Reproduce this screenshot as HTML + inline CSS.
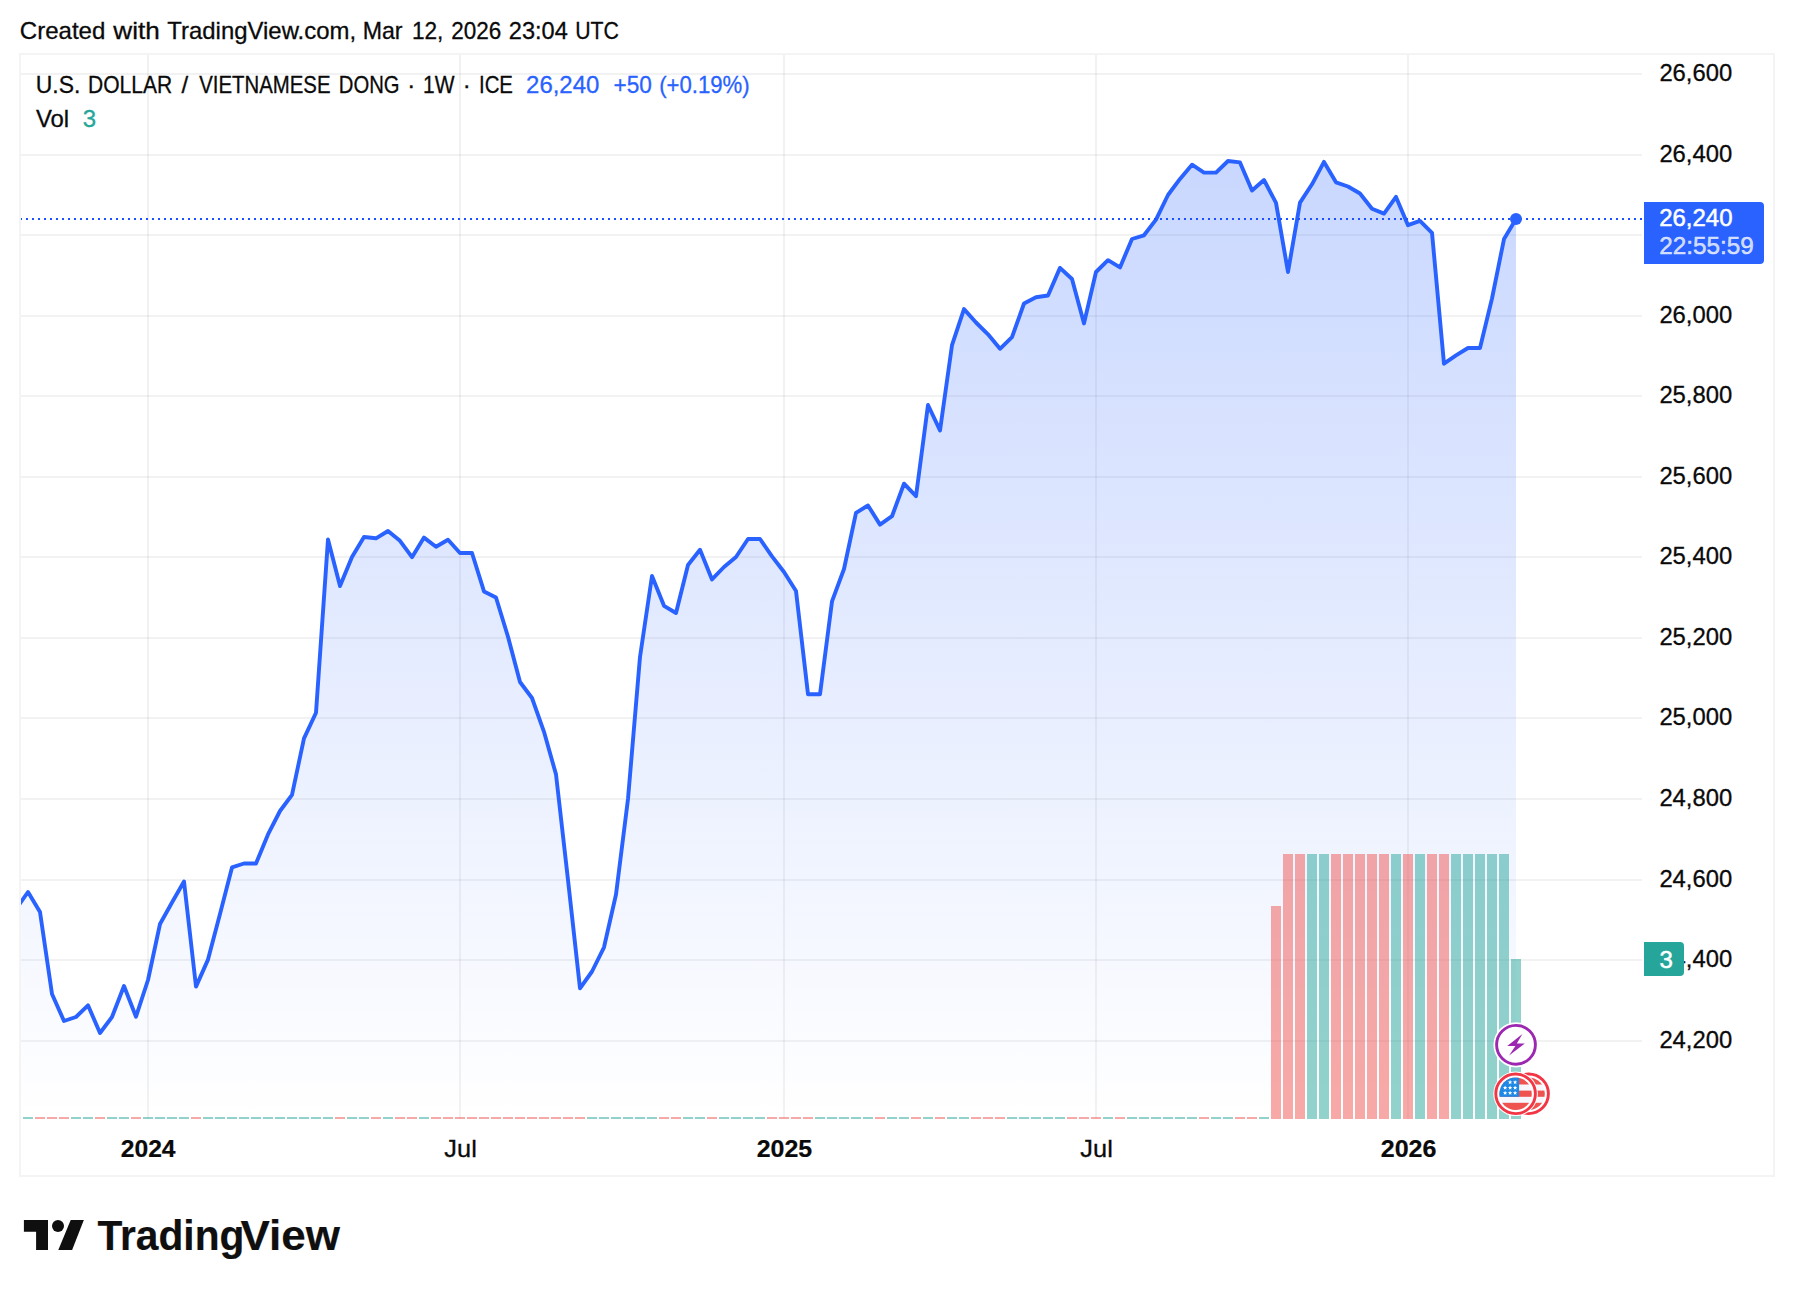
<!DOCTYPE html>
<html lang="en"><head><meta charset="utf-8"><title>USDVND chart</title>
<style>html,body{margin:0;padding:0;background:#fff;}body{width:1794px;height:1296px;overflow:hidden;}svg{display:block;}text{font-family:"Liberation Sans",sans-serif;}</style>
</head><body>
<svg width="1794" height="1296" viewBox="0 0 1794 1296">
<defs>
<linearGradient id="ag" gradientUnits="userSpaceOnUse" x1="0" y1="54" x2="0" y2="1118"><stop offset="0" stop-color="#2962ff" stop-opacity="0.28"/><stop offset="1" stop-color="#2962ff" stop-opacity="0"/></linearGradient>
<clipPath id="pane"><rect x="20" y="55" width="1622" height="1064"/></clipPath>
<clipPath id="flagc"><circle cx="0" cy="0" r="16.2"/></clipPath>
</defs>
<rect width="1794" height="1296" fill="#fff"/>
<g fill="rgba(0,0,0,0.052)">
<rect x="147" y="55" width="2" height="1064"/>
<rect x="459" y="55" width="2" height="1064"/>
<rect x="783" y="55" width="2" height="1064"/>
<rect x="1095" y="55" width="2" height="1064"/>
<rect x="1407" y="55" width="2" height="1064"/>
<rect x="21" y="73" width="1621" height="2"/>
<rect x="21" y="154" width="1621" height="2"/>
<rect x="21" y="234" width="1621" height="2"/>
<rect x="21" y="315" width="1621" height="2"/>
<rect x="21" y="395" width="1621" height="2"/>
<rect x="21" y="476" width="1621" height="2"/>
<rect x="21" y="556" width="1621" height="2"/>
<rect x="21" y="637" width="1621" height="2"/>
<rect x="21" y="717" width="1621" height="2"/>
<rect x="21" y="798" width="1621" height="2"/>
<rect x="21" y="879" width="1621" height="2"/>
<rect x="21" y="959" width="1621" height="2"/>
<rect x="21" y="1040" width="1621" height="2"/>
</g>
<g clip-path="url(#pane)">
<path d="M16 909 L28 892 L40 912 L52 994 L64 1021 L76 1017 L88 1005.3 L100 1033 L112 1017 L124 986 L136 1016.7 L148 980 L160 924 L172 902.5 L184 881.5 L196 986.6 L208 959.6 L220 914 L232 867.4 L244 863.5 L256 863.5 L268 834.4 L280 811 L292 794.8 L304 738.4 L316 712.7 L328 539.5 L340 586 L352 557 L364 537 L376 538.3 L388 531 L400 540.8 L412 557.2 L424 537.6 L436 546.7 L448 539.8 L460 553 L472 553 L484 591.4 L496 597.5 L508 636.8 L520 682 L532 698 L544 731.8 L556 774.4 L568 880 L580 988.3 L592 971.5 L604 947.3 L616 894.5 L628 799 L640 657 L652 576 L664 605.8 L676 613 L688 565 L700 549.8 L712 579.4 L724 567 L736 557 L748 539 L760 539 L772 556.4 L784 572 L796 591 L808 694.2 L820 694.2 L832 601.4 L844 569 L856 512.9 L868 505.5 L880 524.6 L892 516.2 L904 483.7 L916 496.2 L928 405 L940 430.4 L952 345.2 L964 309.1 L976 322.5 L988 334.3 L1000 348.8 L1012 337.2 L1024 303.5 L1036 297.3 L1048 295.5 L1060 267.9 L1072 279 L1084 323.4 L1096 272 L1108 260.2 L1120 267.4 L1132 239 L1144 235.3 L1156 219.6 L1168 195 L1180 178.9 L1192 164.7 L1204 172.6 L1216 172.6 L1228 161 L1240 162.4 L1252 190.5 L1264 180 L1276 202.8 L1288 272 L1300 202.6 L1312 184.3 L1324 161.9 L1336 182.3 L1348 186.5 L1360 193.5 L1372 208.7 L1384 213.6 L1396 196.9 L1408 225.2 L1420 220.9 L1432 232.8 L1444 363.7 L1456 355.4 L1468 348 L1480 348 L1492 298.5 L1504 239.1 L1516 219 L1516 1119 L16 1119 Z" fill="url(#ag)"/>
<rect x="11" y="1117" width="10" height="2" fill="rgba(38,166,154,0.5)"/>
<rect x="23" y="1117" width="10" height="2" fill="rgba(38,166,154,0.5)"/>
<rect x="35" y="1117" width="10" height="2" fill="rgba(239,83,80,0.5)"/>
<rect x="47" y="1117" width="10" height="2" fill="rgba(239,83,80,0.5)"/>
<rect x="59" y="1117" width="10" height="2" fill="rgba(239,83,80,0.5)"/>
<rect x="71" y="1117" width="10" height="2" fill="rgba(38,166,154,0.5)"/>
<rect x="83" y="1117" width="10" height="2" fill="rgba(38,166,154,0.5)"/>
<rect x="95" y="1117" width="10" height="2" fill="rgba(239,83,80,0.5)"/>
<rect x="107" y="1117" width="10" height="2" fill="rgba(38,166,154,0.5)"/>
<rect x="119" y="1117" width="10" height="2" fill="rgba(38,166,154,0.5)"/>
<rect x="131" y="1117" width="10" height="2" fill="rgba(239,83,80,0.5)"/>
<rect x="143" y="1117" width="10" height="2" fill="rgba(38,166,154,0.5)"/>
<rect x="155" y="1117" width="10" height="2" fill="rgba(38,166,154,0.5)"/>
<rect x="167" y="1117" width="10" height="2" fill="rgba(38,166,154,0.5)"/>
<rect x="179" y="1117" width="10" height="2" fill="rgba(38,166,154,0.5)"/>
<rect x="191" y="1117" width="10" height="2" fill="rgba(239,83,80,0.5)"/>
<rect x="203" y="1117" width="10" height="2" fill="rgba(38,166,154,0.5)"/>
<rect x="215" y="1117" width="10" height="2" fill="rgba(38,166,154,0.5)"/>
<rect x="227" y="1117" width="10" height="2" fill="rgba(38,166,154,0.5)"/>
<rect x="239" y="1117" width="10" height="2" fill="rgba(38,166,154,0.5)"/>
<rect x="251" y="1117" width="10" height="2" fill="rgba(38,166,154,0.5)"/>
<rect x="263" y="1117" width="10" height="2" fill="rgba(38,166,154,0.5)"/>
<rect x="275" y="1117" width="10" height="2" fill="rgba(38,166,154,0.5)"/>
<rect x="287" y="1117" width="10" height="2" fill="rgba(38,166,154,0.5)"/>
<rect x="299" y="1117" width="10" height="2" fill="rgba(38,166,154,0.5)"/>
<rect x="311" y="1117" width="10" height="2" fill="rgba(38,166,154,0.5)"/>
<rect x="323" y="1117" width="10" height="2" fill="rgba(38,166,154,0.5)"/>
<rect x="335" y="1117" width="10" height="2" fill="rgba(239,83,80,0.5)"/>
<rect x="347" y="1117" width="10" height="2" fill="rgba(38,166,154,0.5)"/>
<rect x="359" y="1117" width="10" height="2" fill="rgba(38,166,154,0.5)"/>
<rect x="371" y="1117" width="10" height="2" fill="rgba(239,83,80,0.5)"/>
<rect x="383" y="1117" width="10" height="2" fill="rgba(38,166,154,0.5)"/>
<rect x="395" y="1117" width="10" height="2" fill="rgba(239,83,80,0.5)"/>
<rect x="407" y="1117" width="10" height="2" fill="rgba(239,83,80,0.5)"/>
<rect x="419" y="1117" width="10" height="2" fill="rgba(38,166,154,0.5)"/>
<rect x="431" y="1117" width="10" height="2" fill="rgba(239,83,80,0.5)"/>
<rect x="443" y="1117" width="10" height="2" fill="rgba(239,83,80,0.5)"/>
<rect x="455" y="1117" width="10" height="2" fill="rgba(239,83,80,0.5)"/>
<rect x="467" y="1117" width="10" height="2" fill="rgba(239,83,80,0.5)"/>
<rect x="479" y="1117" width="10" height="2" fill="rgba(239,83,80,0.5)"/>
<rect x="491" y="1117" width="10" height="2" fill="rgba(239,83,80,0.5)"/>
<rect x="503" y="1117" width="10" height="2" fill="rgba(239,83,80,0.5)"/>
<rect x="515" y="1117" width="10" height="2" fill="rgba(239,83,80,0.5)"/>
<rect x="527" y="1117" width="10" height="2" fill="rgba(239,83,80,0.5)"/>
<rect x="539" y="1117" width="10" height="2" fill="rgba(239,83,80,0.5)"/>
<rect x="551" y="1117" width="10" height="2" fill="rgba(239,83,80,0.5)"/>
<rect x="563" y="1117" width="10" height="2" fill="rgba(239,83,80,0.5)"/>
<rect x="575" y="1117" width="10" height="2" fill="rgba(239,83,80,0.5)"/>
<rect x="587" y="1117" width="10" height="2" fill="rgba(38,166,154,0.5)"/>
<rect x="599" y="1117" width="10" height="2" fill="rgba(38,166,154,0.5)"/>
<rect x="611" y="1117" width="10" height="2" fill="rgba(38,166,154,0.5)"/>
<rect x="623" y="1117" width="10" height="2" fill="rgba(38,166,154,0.5)"/>
<rect x="635" y="1117" width="10" height="2" fill="rgba(38,166,154,0.5)"/>
<rect x="647" y="1117" width="10" height="2" fill="rgba(38,166,154,0.5)"/>
<rect x="659" y="1117" width="10" height="2" fill="rgba(239,83,80,0.5)"/>
<rect x="671" y="1117" width="10" height="2" fill="rgba(239,83,80,0.5)"/>
<rect x="683" y="1117" width="10" height="2" fill="rgba(38,166,154,0.5)"/>
<rect x="695" y="1117" width="10" height="2" fill="rgba(38,166,154,0.5)"/>
<rect x="707" y="1117" width="10" height="2" fill="rgba(239,83,80,0.5)"/>
<rect x="719" y="1117" width="10" height="2" fill="rgba(38,166,154,0.5)"/>
<rect x="731" y="1117" width="10" height="2" fill="rgba(38,166,154,0.5)"/>
<rect x="743" y="1117" width="10" height="2" fill="rgba(38,166,154,0.5)"/>
<rect x="755" y="1117" width="10" height="2" fill="rgba(38,166,154,0.5)"/>
<rect x="767" y="1117" width="10" height="2" fill="rgba(239,83,80,0.5)"/>
<rect x="779" y="1117" width="10" height="2" fill="rgba(239,83,80,0.5)"/>
<rect x="791" y="1117" width="10" height="2" fill="rgba(239,83,80,0.5)"/>
<rect x="803" y="1117" width="10" height="2" fill="rgba(239,83,80,0.5)"/>
<rect x="815" y="1117" width="10" height="2" fill="rgba(38,166,154,0.5)"/>
<rect x="827" y="1117" width="10" height="2" fill="rgba(38,166,154,0.5)"/>
<rect x="839" y="1117" width="10" height="2" fill="rgba(38,166,154,0.5)"/>
<rect x="851" y="1117" width="10" height="2" fill="rgba(38,166,154,0.5)"/>
<rect x="863" y="1117" width="10" height="2" fill="rgba(38,166,154,0.5)"/>
<rect x="875" y="1117" width="10" height="2" fill="rgba(239,83,80,0.5)"/>
<rect x="887" y="1117" width="10" height="2" fill="rgba(38,166,154,0.5)"/>
<rect x="899" y="1117" width="10" height="2" fill="rgba(38,166,154,0.5)"/>
<rect x="911" y="1117" width="10" height="2" fill="rgba(239,83,80,0.5)"/>
<rect x="923" y="1117" width="10" height="2" fill="rgba(38,166,154,0.5)"/>
<rect x="935" y="1117" width="10" height="2" fill="rgba(239,83,80,0.5)"/>
<rect x="947" y="1117" width="10" height="2" fill="rgba(38,166,154,0.5)"/>
<rect x="959" y="1117" width="10" height="2" fill="rgba(38,166,154,0.5)"/>
<rect x="971" y="1117" width="10" height="2" fill="rgba(239,83,80,0.5)"/>
<rect x="983" y="1117" width="10" height="2" fill="rgba(239,83,80,0.5)"/>
<rect x="995" y="1117" width="10" height="2" fill="rgba(239,83,80,0.5)"/>
<rect x="1007" y="1117" width="10" height="2" fill="rgba(38,166,154,0.5)"/>
<rect x="1019" y="1117" width="10" height="2" fill="rgba(38,166,154,0.5)"/>
<rect x="1031" y="1117" width="10" height="2" fill="rgba(38,166,154,0.5)"/>
<rect x="1043" y="1117" width="10" height="2" fill="rgba(38,166,154,0.5)"/>
<rect x="1055" y="1117" width="10" height="2" fill="rgba(38,166,154,0.5)"/>
<rect x="1067" y="1117" width="10" height="2" fill="rgba(239,83,80,0.5)"/>
<rect x="1079" y="1117" width="10" height="2" fill="rgba(239,83,80,0.5)"/>
<rect x="1091" y="1117" width="10" height="2" fill="rgba(239,83,80,0.5)"/>
<rect x="1103" y="1117" width="10" height="2" fill="rgba(38,166,154,0.5)"/>
<rect x="1115" y="1117" width="10" height="2" fill="rgba(239,83,80,0.5)"/>
<rect x="1127" y="1117" width="10" height="2" fill="rgba(38,166,154,0.5)"/>
<rect x="1139" y="1117" width="10" height="2" fill="rgba(38,166,154,0.5)"/>
<rect x="1151" y="1117" width="10" height="2" fill="rgba(38,166,154,0.5)"/>
<rect x="1163" y="1117" width="10" height="2" fill="rgba(38,166,154,0.5)"/>
<rect x="1175" y="1117" width="10" height="2" fill="rgba(38,166,154,0.5)"/>
<rect x="1187" y="1117" width="10" height="2" fill="rgba(38,166,154,0.5)"/>
<rect x="1199" y="1117" width="10" height="2" fill="rgba(239,83,80,0.5)"/>
<rect x="1211" y="1117" width="10" height="2" fill="rgba(38,166,154,0.5)"/>
<rect x="1223" y="1117" width="10" height="2" fill="rgba(38,166,154,0.5)"/>
<rect x="1235" y="1117" width="10" height="2" fill="rgba(239,83,80,0.5)"/>
<rect x="1247" y="1117" width="10" height="2" fill="rgba(239,83,80,0.5)"/>
<rect x="1259" y="1117" width="10" height="2" fill="rgba(38,166,154,0.5)"/>
<rect x="1271" y="906" width="10" height="213" fill="rgba(239,83,80,0.5)"/>
<rect x="1283" y="854" width="10" height="265" fill="rgba(239,83,80,0.5)"/>
<rect x="1295" y="854" width="10" height="265" fill="rgba(239,83,80,0.5)"/>
<rect x="1307" y="854" width="10" height="265" fill="rgba(38,166,154,0.5)"/>
<rect x="1319" y="854" width="10" height="265" fill="rgba(38,166,154,0.5)"/>
<rect x="1331" y="854" width="10" height="265" fill="rgba(239,83,80,0.5)"/>
<rect x="1343" y="854" width="10" height="265" fill="rgba(239,83,80,0.5)"/>
<rect x="1355" y="854" width="10" height="265" fill="rgba(239,83,80,0.5)"/>
<rect x="1367" y="854" width="10" height="265" fill="rgba(239,83,80,0.5)"/>
<rect x="1379" y="854" width="10" height="265" fill="rgba(239,83,80,0.5)"/>
<rect x="1391" y="854" width="10" height="265" fill="rgba(38,166,154,0.5)"/>
<rect x="1403" y="854" width="10" height="265" fill="rgba(239,83,80,0.5)"/>
<rect x="1415" y="854" width="10" height="265" fill="rgba(38,166,154,0.5)"/>
<rect x="1427" y="854" width="10" height="265" fill="rgba(239,83,80,0.5)"/>
<rect x="1439" y="854" width="10" height="265" fill="rgba(239,83,80,0.5)"/>
<rect x="1451" y="854" width="10" height="265" fill="rgba(38,166,154,0.5)"/>
<rect x="1463" y="854" width="10" height="265" fill="rgba(38,166,154,0.5)"/>
<rect x="1475" y="854" width="10" height="265" fill="rgba(38,166,154,0.5)"/>
<rect x="1487" y="854" width="10" height="265" fill="rgba(38,166,154,0.5)"/>
<rect x="1499" y="854" width="10" height="265" fill="rgba(38,166,154,0.5)"/>
<rect x="1511" y="959" width="10" height="160" fill="rgba(38,166,154,0.5)"/>
<path d="M16 909 L28 892 L40 912 L52 994 L64 1021 L76 1017 L88 1005.3 L100 1033 L112 1017 L124 986 L136 1016.7 L148 980 L160 924 L172 902.5 L184 881.5 L196 986.6 L208 959.6 L220 914 L232 867.4 L244 863.5 L256 863.5 L268 834.4 L280 811 L292 794.8 L304 738.4 L316 712.7 L328 539.5 L340 586 L352 557 L364 537 L376 538.3 L388 531 L400 540.8 L412 557.2 L424 537.6 L436 546.7 L448 539.8 L460 553 L472 553 L484 591.4 L496 597.5 L508 636.8 L520 682 L532 698 L544 731.8 L556 774.4 L568 880 L580 988.3 L592 971.5 L604 947.3 L616 894.5 L628 799 L640 657 L652 576 L664 605.8 L676 613 L688 565 L700 549.8 L712 579.4 L724 567 L736 557 L748 539 L760 539 L772 556.4 L784 572 L796 591 L808 694.2 L820 694.2 L832 601.4 L844 569 L856 512.9 L868 505.5 L880 524.6 L892 516.2 L904 483.7 L916 496.2 L928 405 L940 430.4 L952 345.2 L964 309.1 L976 322.5 L988 334.3 L1000 348.8 L1012 337.2 L1024 303.5 L1036 297.3 L1048 295.5 L1060 267.9 L1072 279 L1084 323.4 L1096 272 L1108 260.2 L1120 267.4 L1132 239 L1144 235.3 L1156 219.6 L1168 195 L1180 178.9 L1192 164.7 L1204 172.6 L1216 172.6 L1228 161 L1240 162.4 L1252 190.5 L1264 180 L1276 202.8 L1288 272 L1300 202.6 L1312 184.3 L1324 161.9 L1336 182.3 L1348 186.5 L1360 193.5 L1372 208.7 L1384 213.6 L1396 196.9 L1408 225.2 L1420 220.9 L1432 232.8 L1444 363.7 L1456 355.4 L1468 348 L1480 348 L1492 298.5 L1504 239.1 L1516 219" fill="none" stroke="#2962ff" stroke-width="3.9" stroke-linejoin="round" stroke-linecap="round"/>
</g>
<line x1="20" y1="219" x2="1644" y2="219" stroke="#1a50ff" stroke-width="2" stroke-dasharray="2 4"/>
<circle cx="1516" cy="219" r="6" fill="#2962ff"/>
<rect x="20" y="54" width="1754" height="1122" fill="none" stroke="#f4f4f4" stroke-width="2"/>
<path d="M1644 202 H1760 a4 4 0 0 1 4 4 V260 a4 4 0 0 1 -4 4 H1644 Z" fill="#2962ff"/>
<g>
<text y="39.2" font-size="24" fill="#0a0a0a" stroke="#0a0a0a" stroke-width="0.3"><tspan x="19.83" textLength="85.52" lengthAdjust="spacingAndGlyphs">Created</tspan> <tspan x="113.38" textLength="46.50" lengthAdjust="spacingAndGlyphs">with</tspan> <tspan x="167.35" textLength="188.70" lengthAdjust="spacingAndGlyphs">TradingView.com,</tspan> <tspan x="362.70" textLength="39.90" lengthAdjust="spacingAndGlyphs">Mar</tspan> <tspan x="411.88" textLength="31.41" lengthAdjust="spacingAndGlyphs">12,</tspan> <tspan x="451.25" textLength="50.02" lengthAdjust="spacingAndGlyphs">2026</tspan> <tspan x="508.80" textLength="58.97" lengthAdjust="spacingAndGlyphs">23:04</tspan> <tspan x="575.25" textLength="43.71" lengthAdjust="spacingAndGlyphs">UTC</tspan></text>
<text y="92.7" font-size="24" fill="#0a0a0a" stroke="#0a0a0a" stroke-width="0.3"><tspan x="35.72" textLength="44.59" lengthAdjust="spacingAndGlyphs">U.S.</tspan> <tspan x="88.08" textLength="84.06" lengthAdjust="spacingAndGlyphs">DOLLAR</tspan> <tspan x="181.40">/</tspan> <tspan x="199.22" textLength="131.31" lengthAdjust="spacingAndGlyphs">VIETNAMESE</tspan> <tspan x="338.84" textLength="60.74" lengthAdjust="spacingAndGlyphs">DONG</tspan> <tspan x="407.16">·</tspan> <tspan x="423.11" textLength="31.38" lengthAdjust="spacingAndGlyphs">1W</tspan> <tspan x="462.86">·</tspan> <tspan x="478.99" textLength="33.98" lengthAdjust="spacingAndGlyphs">ICE</tspan> <tspan x="526.08" textLength="73.26" lengthAdjust="spacingAndGlyphs" fill="#2962ff" stroke="#2962ff">26,240</tspan> <tspan x="613.58" textLength="38.37" lengthAdjust="spacingAndGlyphs" fill="#2962ff" stroke="#2962ff">+50</tspan> <tspan x="659.19" textLength="90.49" lengthAdjust="spacingAndGlyphs" fill="#2962ff" stroke="#2962ff">(+0.19%)</tspan></text>
<text y="126.8" font-size="24" fill="#0a0a0a" stroke="#0a0a0a" stroke-width="0.3"><tspan x="35.93" textLength="33.23" lengthAdjust="spacingAndGlyphs">Vol</tspan> <tspan x="82.68" fill="#26a69a" stroke="#26a69a">3</tspan></text>
<text y="81.2" font-size="24" fill="#0a0a0a" stroke="#0a0a0a" stroke-width="0.3"><tspan x="1659.39" textLength="72.84" lengthAdjust="spacingAndGlyphs">26,600</tspan></text>
<text y="162.2" font-size="24" fill="#0a0a0a" stroke="#0a0a0a" stroke-width="0.3"><tspan x="1659.39" textLength="72.84" lengthAdjust="spacingAndGlyphs">26,400</tspan></text>
<text y="323.2" font-size="24" fill="#0a0a0a" stroke="#0a0a0a" stroke-width="0.3"><tspan x="1659.39" textLength="72.84" lengthAdjust="spacingAndGlyphs">26,000</tspan></text>
<text y="403.2" font-size="24" fill="#0a0a0a" stroke="#0a0a0a" stroke-width="0.3"><tspan x="1659.39" textLength="72.84" lengthAdjust="spacingAndGlyphs">25,800</tspan></text>
<text y="484.2" font-size="24" fill="#0a0a0a" stroke="#0a0a0a" stroke-width="0.3"><tspan x="1659.39" textLength="72.84" lengthAdjust="spacingAndGlyphs">25,600</tspan></text>
<text y="564.2" font-size="24" fill="#0a0a0a" stroke="#0a0a0a" stroke-width="0.3"><tspan x="1659.39" textLength="72.84" lengthAdjust="spacingAndGlyphs">25,400</tspan></text>
<text y="645.2" font-size="24" fill="#0a0a0a" stroke="#0a0a0a" stroke-width="0.3"><tspan x="1659.39" textLength="72.84" lengthAdjust="spacingAndGlyphs">25,200</tspan></text>
<text y="725.2" font-size="24" fill="#0a0a0a" stroke="#0a0a0a" stroke-width="0.3"><tspan x="1659.39" textLength="72.84" lengthAdjust="spacingAndGlyphs">25,000</tspan></text>
<text y="806.2" font-size="24" fill="#0a0a0a" stroke="#0a0a0a" stroke-width="0.3"><tspan x="1659.39" textLength="72.84" lengthAdjust="spacingAndGlyphs">24,800</tspan></text>
<text y="887.2" font-size="24" fill="#0a0a0a" stroke="#0a0a0a" stroke-width="0.3"><tspan x="1659.39" textLength="72.84" lengthAdjust="spacingAndGlyphs">24,600</tspan></text>
<text y="967.2" font-size="24" fill="#0a0a0a" stroke="#0a0a0a" stroke-width="0.3"><tspan x="1659.39" textLength="72.84" lengthAdjust="spacingAndGlyphs">24,400</tspan></text>
<text y="1048.2" font-size="24" fill="#0a0a0a" stroke="#0a0a0a" stroke-width="0.3"><tspan x="1659.39" textLength="72.84" lengthAdjust="spacingAndGlyphs">24,200</tspan></text>
<text y="225.8" font-size="24" fill="#fff" stroke="#fff" stroke-width="0.5"><tspan x="1659.18" textLength="73.36" lengthAdjust="spacingAndGlyphs">26,240</tspan></text>
<text y="253.9" font-size="24" fill="#fff" stroke="#fff" stroke-width="0.5" fill-opacity="0.75" stroke-opacity="0.75"><tspan x="1659.16" textLength="94.50" lengthAdjust="spacingAndGlyphs">22:55:59</tspan></text>
<text y="1156.9" font-size="24" fill="#0a0a0a" stroke="#0a0a0a" stroke-width="0.2" font-weight="bold"><tspan x="120.75" textLength="54.83" lengthAdjust="spacingAndGlyphs">2024</tspan></text>
<text y="1156.9" font-size="24" fill="#0a0a0a" stroke="#0a0a0a" stroke-width="0.3"><tspan x="444.38" textLength="32.40" lengthAdjust="spacingAndGlyphs">Jul</tspan></text>
<text y="1156.9" font-size="24" fill="#0a0a0a" stroke="#0a0a0a" stroke-width="0.2" font-weight="bold"><tspan x="756.74" textLength="55.47" lengthAdjust="spacingAndGlyphs">2025</tspan></text>
<text y="1156.9" font-size="24" fill="#0a0a0a" stroke="#0a0a0a" stroke-width="0.3"><tspan x="1080.38" textLength="32.40" lengthAdjust="spacingAndGlyphs">Jul</tspan></text>
<text y="1156.9" font-size="24" fill="#0a0a0a" stroke="#0a0a0a" stroke-width="0.2" font-weight="bold"><tspan x="1380.74" textLength="55.68" lengthAdjust="spacingAndGlyphs">2026</tspan></text>
</g>
<path d="M1644 942 H1680 a4 4 0 0 1 4 4 V972 a4 4 0 0 1 -4 4 H1644 Z" fill="#26a69a"/>
<text x="1659.6" y="967.6" font-size="24" fill="#fff" stroke="#fff" stroke-width="0.5">3</text>
<g transform="translate(1516 1044.8)"><circle r="22.6" fill="#fff"/><circle r="19.4" fill="#fff" stroke="#9c27b0" stroke-width="2.9"/><path d="M6.4 -10.8 L-8.8 1.1 L-0.6 1.1 L-6.9 10.8 L8.8 -1.3 L0.8 -1.3 Z" fill="#9c27b0"/></g>
<g transform="translate(1528.6 1093.8)">
<circle r="22.3" fill="#fff"/><circle r="19.8" fill="#fff" stroke="#f23645" stroke-width="2.9"/>
<g clip-path="url(#flagc)">
<rect x="-17" y="-17" width="34" height="34" fill="#f5f7fc"/>
<rect x="-17" y="-16.5" width="34" height="7.2" fill="#ef5350"/>
<rect x="-17" y="-3.2" width="34" height="6.2" fill="#ef5350"/>
<rect x="-17" y="9" width="34" height="7.5" fill="#ef5350"/>
</g></g>
<g transform="translate(1515.6 1093.8)">
<circle r="22.3" fill="#fff"/><circle r="19.8" fill="#fff" stroke="#f23645" stroke-width="2.9"/>
<g clip-path="url(#flagc)">
<rect x="-17" y="-17" width="34" height="34" fill="#f5f7fc"/>
<rect x="-17" y="-16.5" width="34" height="7.2" fill="#ef5350"/>
<rect x="-17" y="-3.2" width="34" height="6.2" fill="#ef5350"/>
<rect x="-17" y="9" width="34" height="7.5" fill="#ef5350"/>
<rect x="-17" y="-16.5" width="20.5" height="19.5" fill="#1e88e5"/>
<path transform="translate(-5.5 -11.5) scale(2.3)" d="M0 -1 L0.29 -0.31 L0.95 -0.31 L0.43 0.12 L0.59 0.81 L0 0.4 L-0.59 0.81 L-0.43 0.12 L-0.95 -0.31 L-0.29 -0.31 Z" fill="#fff"/>
<path transform="translate(-0.5 -11.5) scale(2.3)" d="M0 -1 L0.29 -0.31 L0.95 -0.31 L0.43 0.12 L0.59 0.81 L0 0.4 L-0.59 0.81 L-0.43 0.12 L-0.95 -0.31 L-0.29 -0.31 Z" fill="#fff"/>
<path transform="translate(-10.5 -6) scale(2.3)" d="M0 -1 L0.29 -0.31 L0.95 -0.31 L0.43 0.12 L0.59 0.81 L0 0.4 L-0.59 0.81 L-0.43 0.12 L-0.95 -0.31 L-0.29 -0.31 Z" fill="#fff"/>
<path transform="translate(-5.5 -6) scale(2.3)" d="M0 -1 L0.29 -0.31 L0.95 -0.31 L0.43 0.12 L0.59 0.81 L0 0.4 L-0.59 0.81 L-0.43 0.12 L-0.95 -0.31 L-0.29 -0.31 Z" fill="#fff"/>
<path transform="translate(-0.5 -6) scale(2.3)" d="M0 -1 L0.29 -0.31 L0.95 -0.31 L0.43 0.12 L0.59 0.81 L0 0.4 L-0.59 0.81 L-0.43 0.12 L-0.95 -0.31 L-0.29 -0.31 Z" fill="#fff"/>
<path transform="translate(-10.5 -0.8) scale(2.3)" d="M0 -1 L0.29 -0.31 L0.95 -0.31 L0.43 0.12 L0.59 0.81 L0 0.4 L-0.59 0.81 L-0.43 0.12 L-0.95 -0.31 L-0.29 -0.31 Z" fill="#fff"/>
<path transform="translate(-5.5 -0.8) scale(2.3)" d="M0 -1 L0.29 -0.31 L0.95 -0.31 L0.43 0.12 L0.59 0.81 L0 0.4 L-0.59 0.81 L-0.43 0.12 L-0.95 -0.31 L-0.29 -0.31 Z" fill="#fff"/>
<path transform="translate(-0.5 -0.8) scale(2.3)" d="M0 -1 L0.29 -0.31 L0.95 -0.31 L0.43 0.12 L0.59 0.81 L0 0.4 L-0.59 0.81 L-0.43 0.12 L-0.95 -0.31 L-0.29 -0.31 Z" fill="#fff"/>
</g></g>
<g fill="#0f0f0f"><path d="M23.9 1220 H48 V1249.9 H36.1 V1231.8 H23.9 Z"/><circle cx="58" cy="1226.05" r="6"/><path d="M70.7 1220 H83.85 L72.1 1249.9 H58.3 Z"/></g>
<text y="1249.9" font-size="43" fill="#0f0f0f" stroke="#0f0f0f" stroke-width="0.2" font-weight="bold"><tspan x="97.43" textLength="146.95" lengthAdjust="spacingAndGlyphs">Trading</tspan><tspan x="240.49" textLength="99.38" lengthAdjust="spacingAndGlyphs">View</tspan></text>
</svg>
</body></html>
